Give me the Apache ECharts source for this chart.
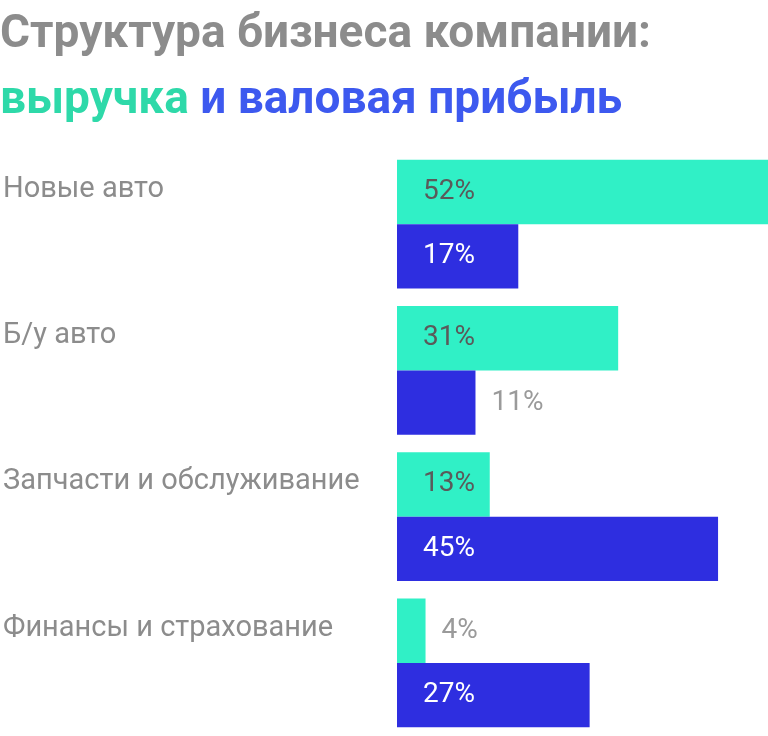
<!DOCTYPE html>
<html><head><meta charset="utf-8">
<script src="https://cdn.jsdelivr.net/npm/echarts@6/dist/echarts.min.js"></script>
<style>html,body{margin:0;padding:0;background:#fff}#c{width:768px;height:736px}</style>
</head><body><div id="c"></div>
<script>
const categories = ['Новые авто','Б/у авто','Запчасти и обслуживание','Финансы и страхование'];
const revenue = [52, 31, 13, 4];
const grossProfit = [17, 11, 45, 27];
const seriesNames = ['выручка','валовая прибыль'];

const GREEN = '#30f0c6', BLUE = '#2e2ee0';
function lbl(v, inside, innerColor) {
  return inside
    ? {show:true, position:'insideLeft', distance:26, color:innerColor, fontSize:28, fontFamily:'Roboto'}
    : {show:true, position:'right', distance:16, color:'#9a9a9a', fontSize:28, fontFamily:'Roboto'};
}
const chart = echarts.init(document.getElementById('c'));
chart.setOption({
  animation:false,
  title:{
    left:0, top:2, padding:0,
    text:'Структура бизнеса компании:\n{g|выручка} {b|и валовая прибыль}',
    textStyle:{fontFamily:'Roboto', fontWeight:'bold', fontSize:46, color:'#8c8c8c', lineHeight:66,
      rich:{g:{color:'#2ed9a9', fontFamily:'Roboto', fontWeight:'bold', fontSize:46, lineHeight:66},
            b:{color:'#3d59ef', fontFamily:'Roboto', fontWeight:'bold', fontSize:46, lineHeight:66}}}
  },
  grid:{left:389, right:0, top:151, bottom:-14, containLabel:false},
  xAxis:{type:'value', min:0, max:52, show:false},
  yAxis:{type:'category', data:categories, inverse:true,
    axisLine:{show:false}, axisTick:{show:false},
    axisLabel:{align:'left', margin:394, verticalAlign:'bottom', padding:[0,0,20,0],
      color:'#8c8c8c', fontSize:29, fontFamily:'Roboto'}},
  series:[
    {name:seriesNames[0], type:'bar', data:revenue.map(v=>({value:v, label:lbl(v, v>=10, '#5a5a5a')})),
     itemStyle:{color:GREEN}, barGap:'0%', barCategoryGap:'12%', label:{formatter:'{c}%'}},
    {name:seriesNames[1], type:'bar', data:grossProfit.map(v=>({value:v, label:lbl(v, v>=15, '#ffffff')})),
     itemStyle:{color:BLUE}, barGap:'0%', barCategoryGap:'12%', label:{formatter:'{c}%'}}
  ]
});
</script></body></html>
